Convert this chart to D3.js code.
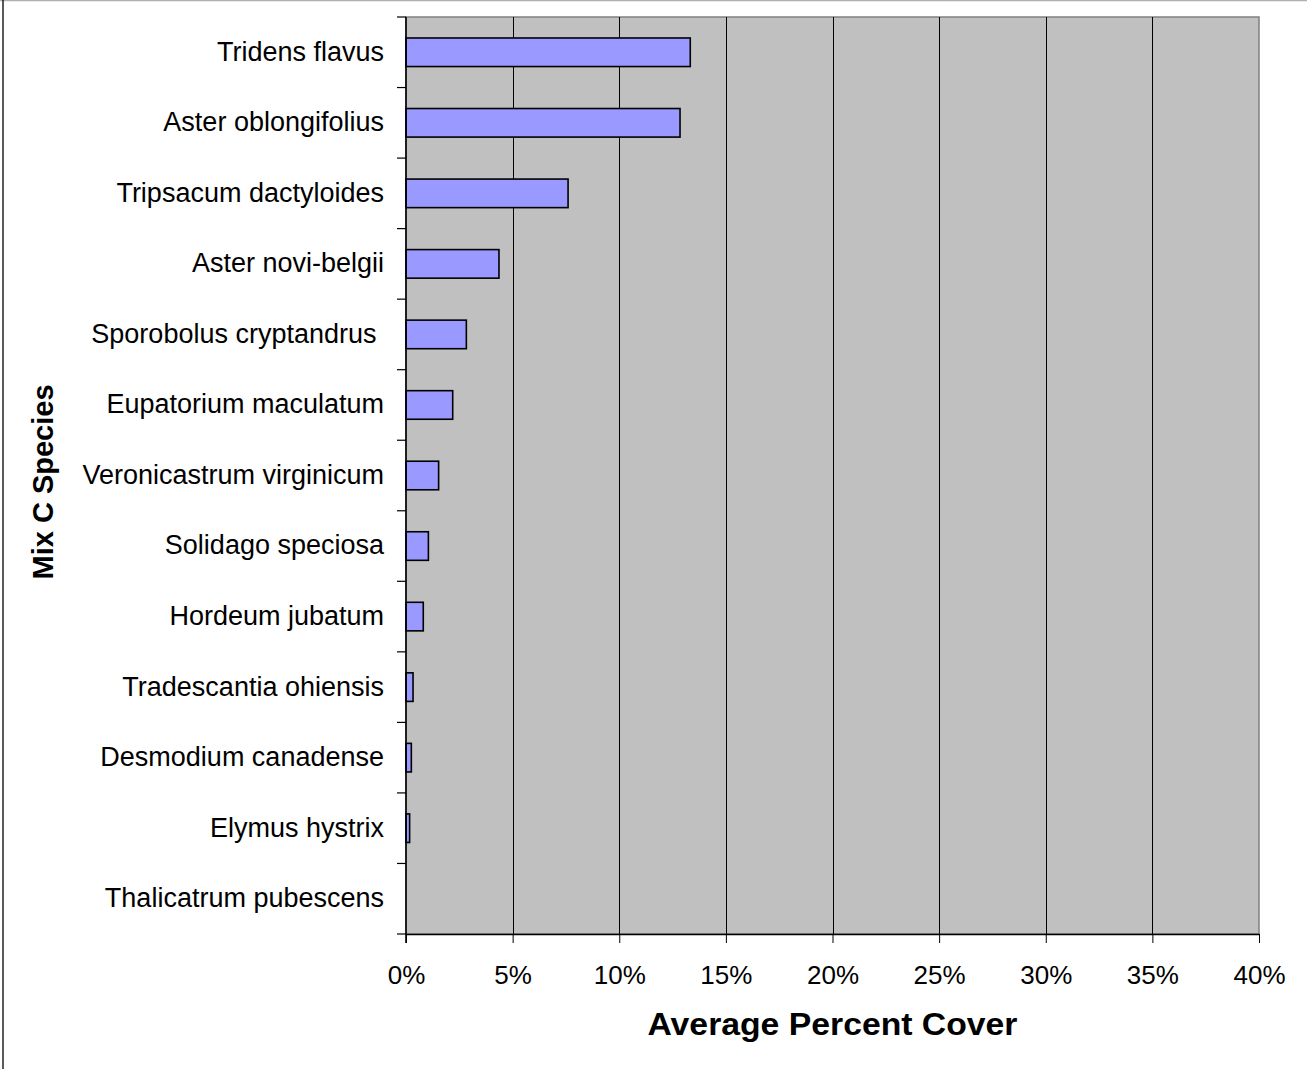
<!DOCTYPE html>
<html>
<head>
<meta charset="utf-8">
<script src="https://cdn.jsdelivr.net/npm/d3@7"></script>
<style>
  html, body { margin: 0; padding: 0; background: #fff; }
  svg { display: block; font-family: "Liberation Sans", Arial, sans-serif; }
</style>
</head>
<body>
<svg id="chart" width="1307" height="1069"></svg>
<script>
// Species in Mix C, top to bottom
const species = [
  "Tridens flavus",
  "Aster oblongifolius",
  "Tripsacum dactyloides",
  "Aster novi-belgii",
  "Sporobolus cryptandrus ",
  "Eupatorium maculatum",
  "Veronicastrum virginicum",
  "Solidago speciosa",
  "Hordeum jubatum",
  "Tradescantia ohiensis",
  "Desmodium canadense",
  "Elymus hystrix",
  "Thalicatrum pubescens"
];
// Average percent cover per species (%)
const cover = [13.33, 12.85, 7.6, 4.36, 2.83, 2.19, 1.53, 1.05, 0.81, 0.33, 0.25, 0.17, 0];
// X axis ticks (%)
const xTicks = [0, 5, 10, 15, 20, 25, 30, 35, 40];

const svg = d3.select("#chart");
const plot = { left: 406, right: 1259, top: 17, bottom: 934 };

const x = d3.scaleLinear().domain([0, 40]).range([plot.left, plot.right]);
const y = d3.scaleBand().domain(species).range([plot.top, plot.bottom])
  .paddingInner(0.595).paddingOuter(0.2975);

// outer frame edges
svg.append("line").attr("x1", 0).attr("x2", 1307).attr("y1", 0.5).attr("y2", 0.5)
  .attr("stroke", "#b0b0b0").attr("stroke-width", 1.5);
svg.append("line").attr("x1", 3).attr("x2", 3).attr("y1", 0).attr("y2", 1069)
  .attr("stroke", "#000").attr("stroke-width", 1.3);

// plot background
svg.append("rect")
  .attr("x", plot.left).attr("y", plot.top)
  .attr("width", plot.right - plot.left).attr("height", plot.bottom - plot.top)
  .attr("fill", "#c0c0c0").attr("stroke", "#808080").attr("stroke-width", 1.5);

// vertical gridlines
svg.append("g").selectAll("line")
  .data(xTicks.filter(d => d > 0 && d < 40))
  .join("line")
  .attr("x1", d => Math.round(x(d)) + 0.5).attr("x2", d => Math.round(x(d)) + 0.5)
  .attr("y1", plot.top).attr("y2", plot.bottom)
  .attr("stroke", "#000").attr("stroke-width", 1);

// bars
svg.append("g").selectAll("rect")
  .data(species.map((s, i) => ({ s, v: cover[i] })).filter(d => d.v > 0))
  .join("rect")
  .attr("x", x(0))
  .attr("y", d => y(d.s))
  .attr("width", d => x(d.v) - x(0))
  .attr("height", y.bandwidth())
  .attr("fill", "#9999ff")
  .attr("stroke", "#000").attr("stroke-width", 1.6);

// x axis
const xAxis = d3.axisBottom(x).tickValues(xTicks).tickFormat(d => d + "%")
  .tickSizeInner(9).tickSizeOuter(0).tickPadding(23);
const gx = svg.append("g").attr("transform", `translate(0,${plot.bottom})`).call(xAxis);
gx.select(".domain").attr("stroke", "#000").attr("stroke-width", 1.6);
gx.selectAll(".tick line").attr("stroke", "#000").attr("stroke-width", 1);
gx.selectAll(".tick text").attr("font-size", 26).attr("fill", "#000")
  .attr("font-family", "Liberation Sans, Arial, sans-serif");

// y axis with ticks at category boundaries
const boundaries = species.map(s => y(s) - y.step() * y.paddingInner() / 2).concat([plot.bottom]);
svg.append("line").attr("x1", plot.left).attr("x2", plot.left)
  .attr("y1", plot.top).attr("y2", plot.bottom + 9)
  .attr("stroke", "#000").attr("stroke-width", 1.6);
svg.append("g").selectAll("line")
  .data(boundaries)
  .join("line")
  .attr("x1", plot.left - 9).attr("x2", plot.left)
  .attr("y1", d => d).attr("y2", d => d)
  .attr("stroke", "#000").attr("stroke-width", 1.2);

// category labels
svg.append("g").selectAll("text")
  .data(species)
  .join("text")
  .attr("x", 384)
  .attr("y", d => y(d) + y.bandwidth() / 2 - 1)
  .attr("dy", "0.35em")
  .attr("text-anchor", "end")
  .attr("font-size", 27)
  .style("white-space", "pre")
  .text(d => d);

// axis titles
svg.append("text")
  .attr("x", (plot.left + plot.right) / 2).attr("y", 1035)
  .attr("text-anchor", "middle")
  .attr("font-size", 31).attr("font-weight", "bold")
  .attr("textLength", 370).attr("lengthAdjust", "spacingAndGlyphs")
  .text("Average Percent Cover");

svg.append("text")
  .attr("transform", "translate(53,482) rotate(-90)")
  .attr("text-anchor", "middle")
  .attr("font-size", 29).attr("font-weight", "bold")
  .text("Mix C Species");
</script>
</body>
</html>
